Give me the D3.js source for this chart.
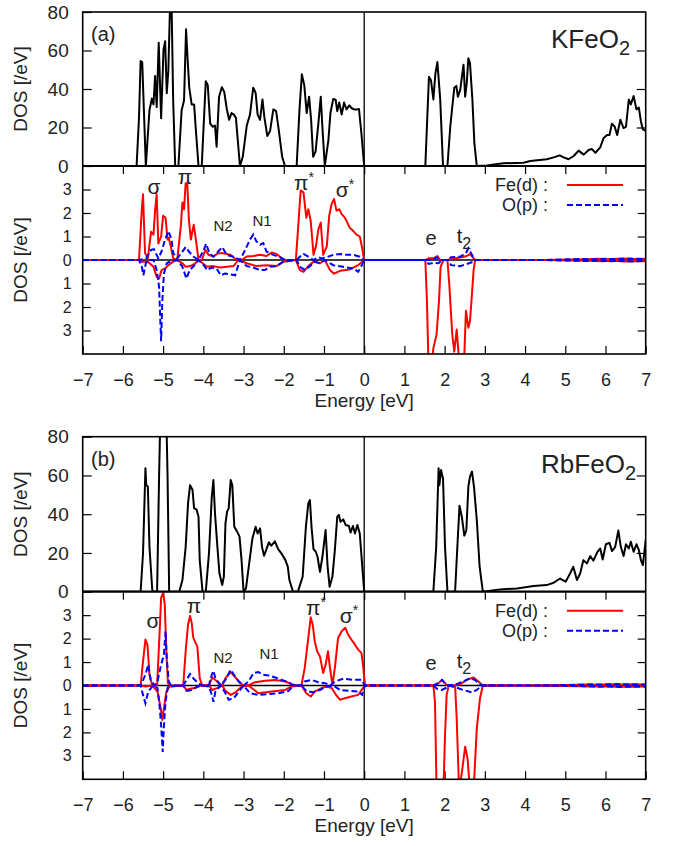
<!DOCTYPE html>
<html lang="en">
<head>
<meta charset="UTF-8">
<title>DOS KFeO2 / RbFeO2</title>
<script src="https://d3js.org/d3.v7.min.js"></script>
<style>
  body { margin: 0; background: #fff; }
  svg { font-family: "Liberation Sans", Arial, sans-serif; }
  .tick line { stroke: #000; stroke-width: 1.2; }
  .tick text { fill: #222; }
</style>
</head>
<body>
<svg id="chart" width="675" height="846"></svg>
<script>
// ---- data: [energy eV, DOS] ----
const xTicks = [-7, -6, -5, -4, -3, -2, -1, 0, 1, 2, 3, 4, 5, 6, 7];
const totalTicks = [0, 20, 40, 60, 80];
const pdosTicks = [-3, -2, -1, 0, 1, 2, 3];

const kTotal = [[-7,0],[-5.66,0],[-5.6,25],[-5.56,54.5],[-5.52,54],[-5.43,0],[-5.34,29],[-5.28,35],[-5.24,32],[-5.2,46.8],[-5.16,30.6],[-5.11,64],[-5.05,24.8],[-4.99,60.6],[-4.95,64.8],[-4.91,37.8],[-4.87,49.7],[-4.83,82],[-4.79,84],[-4.75,34],[-4.7,0],[-4.62,0],[-4.54,29],[-4.48,34],[-4.43,71],[-4.39,55],[-4.35,40.7],[-4.29,32],[-4.23,32],[-4.18,17],[-4.12,0],[-4.04,0],[-3.94,44],[-3.89,42],[-3.83,22],[-3.77,20.4],[-3.71,21],[-3.67,10],[-3.61,35.8],[-3.54,40.9],[-3.48,38.5],[-3.42,30],[-3.36,24],[-3.3,27.5],[-3.24,26.7],[-3.19,25],[-3.09,0],[-3.02,4.8],[-2.92,21],[-2.84,26.7],[-2.76,40.7],[-2.7,38],[-2.65,26.7],[-2.59,24],[-2.53,34.6],[-2.48,25],[-2.41,15.6],[-2.34,18.2],[-2.26,29.4],[-2.19,28.5],[-2.12,18],[-2.04,4.8],[-1.97,0],[-1.68,0],[-1.61,29],[-1.55,47.6],[-1.49,42],[-1.43,27.5],[-1.37,36],[-1.32,24],[-1.27,4.8],[-1.21,7.4],[-1.14,22],[-1.08,36],[-1.04,20.4],[-0.98,0],[-0.89,13.5],[-0.84,27.5],[-0.77,34.8],[-0.71,34.4],[-0.67,28.5],[-0.62,33],[-0.56,26.7],[-0.5,33],[-0.44,29.4],[-0.37,31.5],[-0.31,30],[-0.25,29.4],[-0.19,29.4],[-0.13,29.6],[-0.07,17],[0,0],[1.52,0],[1.61,46.4],[1.66,44.6],[1.72,34.6],[1.77,48],[1.82,54],[1.89,34.6],[1.96,0],[2.07,0],[2.14,20.4],[2.24,40.7],[2.29,41.6],[2.33,36],[2.39,39.8],[2.43,46.4],[2.47,52.6],[2.51,36],[2.55,43],[2.59,56],[2.63,53.5],[2.69,34.6],[2.74,11.8],[2.8,0],[3.05,0.3],[3.46,1.4],[3.96,1.7],[4.13,2.6],[4.54,3.5],[4.71,4.5],[4.86,5.5],[4.96,4.5],[5.08,3.5],[5.21,5.2],[5.33,8],[5.46,5.9],[5.58,8.3],[5.66,8.8],[5.75,6.9],[5.87,9.7],[5.95,14.4],[6.04,16.1],[6.1,16.1],[6.16,22],[6.23,20.4],[6.29,16.1],[6.37,24],[6.45,19.7],[6.51,20.4],[6.58,34.6],[6.63,32],[6.7,36.3],[6.77,29.4],[6.83,30.3],[6.88,23.3],[6.93,19],[7,18.2]];

const kFeUp = [[-7,0],[-5.6,0],[-5.53,2.16],[-5.5,2.8],[-5.45,0.3],[-5.38,0.07],[-5.3,1.2],[-5.24,1.08],[-5.2,2.1],[-5.16,2.8],[-5.12,0.7],[-5.05,1.0],[-5.0,1.88],[-4.94,1.8],[-4.89,0.87],[-4.86,0.94],[-4.81,0.58],[-4.75,0.07],[-4.65,0],[-4.56,1.44],[-4.52,2.45],[-4.48,2.16],[-4.44,3.25],[-4.4,3.3],[-4.36,1.73],[-4.31,0.87],[-4.24,1.5],[-4.18,0.8],[-4.12,0],[-4.04,0],[-3.95,0.43],[-3.87,0.22],[-3.75,0.15],[-3.63,0.29],[-3.5,0.29],[-3.33,0.22],[-3.17,0],[-3.05,0],[-2.92,0.15],[-2.76,0.17],[-2.59,0.22],[-2.43,0.17],[-2.3,0.32],[-2.18,0.26],[-2.05,0.07],[-1.97,0],[-1.7,0],[-1.64,1.44],[-1.58,2.96],[-1.51,2.88],[-1.44,1.8],[-1.39,2.16],[-1.33,1.66],[-1.26,0.22],[-1.2,0.58],[-1.14,1.3],[-1.08,1.59],[-1.02,0.22],[-0.93,0.58],[-0.87,1.88],[-0.81,2.38],[-0.75,2.6],[-0.69,2.1],[-0.62,2.16],[-0.56,1.95],[-0.48,1.8],[-0.42,1.59],[-0.36,1.37],[-0.27,1.23],[-0.19,1.08],[-0.11,1.0],[-0.05,0.5],[0,0],[1.52,0],[1.6,0.07],[1.72,0.07],[1.82,0.17],[1.89,0],[2.07,0],[2.26,0.07],[2.43,0.12],[2.55,0.17],[2.63,0.25],[2.76,0],[4.5,0],[5.5,0.03],[5.8,0.05],[6.1,0.03],[6.4,0.06],[6.7,0.04],[7,0.05]];
const kFeDn = [[-7,0],[-5.6,0],[-5.53,-0.07],[-5.38,-0.07],[-5.24,-0.29],[-5.16,-0.72],[-5.1,-0.79],[-5.04,-0.43],[-4.95,-0.36],[-4.87,-0.22],[-4.75,-0.07],[-4.65,0],[-4.52,-0.14],[-4.44,-0.29],[-4.32,-0.26],[-4.2,-0.14],[-4.12,0],[-3.91,-0.29],[-3.75,-0.26],[-3.58,-0.32],[-3.42,-0.29],[-3.25,-0.26],[-3.13,0],[-2.92,-0.14],[-2.68,-0.26],[-2.43,-0.22],[-2.18,-0.26],[-2.01,-0.07],[-1.7,0],[-1.6,-0.43],[-1.51,-0.5],[-1.39,-0.26],[-1.26,-0.07],[-1.1,-0.14],[-0.98,0],[-0.85,-0.43],[-0.75,-0.58],[-0.6,-0.46],[-0.36,-0.4],[-0.15,-0.22],[0,0],[1.52,0],[1.56,-1.73],[1.6,-4.5],[1.68,-4.5],[1.72,-3.75],[1.8,-3.17],[1.86,-1.73],[1.9,-0.29],[1.97,0],[2.07,0],[2.12,-1.15],[2.19,-3.17],[2.24,-3.9],[2.3,-2.96],[2.37,-4.5],[2.43,-4.5],[2.48,-4.5],[2.53,-2.16],[2.59,-2.88],[2.63,-2.6],[2.68,-1.44],[2.72,-0.43],[2.76,0],[4.5,0],[5.6,-0.03],[5.9,-0.05],[6.2,-0.03],[6.5,-0.06],[6.8,-0.04],[7,-0.05]];
const kOUp = [[-7,0],[-5.6,0],[-5.42,0.07],[-5.3,0.43],[-5.23,0.46],[-5.12,0.07],[-5.04,0.36],[-4.95,0.87],[-4.87,1.23],[-4.79,0.87],[-4.75,0.29],[-4.65,0.07],[-4.52,0.36],[-4.44,0.55],[-4.36,0.36],[-4.24,0.14],[-4.12,0],[-3.99,0.43],[-3.93,0.69],[-3.85,0.29],[-3.75,0.14],[-3.63,0.36],[-3.53,0.55],[-3.42,0.22],[-3.25,0.14],[-3.09,0],[-2.96,0.43],[-2.84,0.87],[-2.76,1.08],[-2.68,0.79],[-2.59,0.65],[-2.51,0.72],[-2.43,0.36],[-2.26,0.22],[-2.1,0.12],[-1.97,0],[-1.68,0],[-1.6,0.14],[-1.51,0.26],[-1.39,0.14],[-1.26,0],[-1.14,0.12],[-1.06,0.07],[-0.93,0.12],[-0.77,0.22],[-0.6,0.26],[-0.44,0.22],[-0.27,0.22],[-0.11,0.14],[0,0],[1.52,0],[1.68,0],[1.81,0.12],[1.91,0],[2.07,0],[2.16,0.12],[2.39,0.14],[2.53,0.29],[2.59,0.5],[2.68,0.22],[2.76,0],[4.5,0],[5.4,0.04],[5.7,0.03],[6.0,0.05],[6.3,0.04],[6.6,0.06],[7,0.04]];
const kODn = [[-7,0],[-5.6,0],[-5.53,-0.29],[-5.49,-0.65],[-5.43,-0.14],[-5.36,0],[-5.24,0],[-5.16,-0.43],[-5.1,-1.15],[-5.07,-2.6],[-5.05,-3.46],[-5.02,-1.73],[-4.98,-0.58],[-4.91,-0.14],[-4.79,-0.03],[-4.65,0],[-4.52,-0.29],[-4.42,-0.79],[-4.34,-0.43],[-4.24,-0.26],[-4.12,0],[-3.99,-0.22],[-3.91,-0.43],[-3.79,-0.32],[-3.67,-0.36],[-3.57,-0.65],[-3.46,-0.58],[-3.34,-0.61],[-3.21,-0.65],[-3.09,0],[-2.92,-0.26],[-2.76,-0.32],[-2.59,-0.43],[-2.47,-0.43],[-2.34,-0.29],[-2.18,-0.26],[-2.01,-0.07],[-1.68,0],[-1.6,-0.29],[-1.47,-0.43],[-1.35,-0.26],[-1.22,-0.07],[-1.1,-0.14],[-0.98,0],[-0.77,-0.22],[-0.52,-0.29],[-0.27,-0.36],[-0.15,-0.5],[-0.07,-0.26],[0,0],[1.52,0],[1.6,-0.17],[1.72,-0.12],[1.85,-0.14],[1.93,0],[2.09,0],[2.16,-0.22],[2.39,-0.26],[2.55,-0.17],[2.72,-0.07],[2.76,0],[4.5,0],[5.5,-0.04],[5.8,-0.03],[6.1,-0.05],[6.4,-0.04],[6.7,-0.06],[7,-0.04]];

const rTotal = [[-7,0],[-5.56,0],[-5.5,19.8],[-5.44,63.7],[-5.42,55],[-5.38,54.3],[-5.34,23.2],[-5.27,0.9],[-5.21,0],[-5.15,0],[-5.1,60],[-5.05,110],[-4.94,110],[-4.89,60],[-4.85,0],[-4.6,0],[-4.52,6],[-4.44,23],[-4.38,45.7],[-4.33,55],[-4.27,52.6],[-4.23,43],[-4.17,42.5],[-4.12,38.7],[-4.09,16.3],[-4.02,0],[-3.94,0],[-3.86,19.8],[-3.79,49],[-3.75,57.6],[-3.71,40.4],[-3.65,23],[-3.6,9.4],[-3.53,3.5],[-3.49,7.8],[-3.45,35.3],[-3.41,41.3],[-3.37,43],[-3.32,57.6],[-3.28,55],[-3.23,33.5],[-3.16,31],[-3.1,28.4],[-3.05,16.3],[-3.0,0],[-2.94,1.7],[-2.86,14.6],[-2.78,27.5],[-2.7,33.5],[-2.65,30],[-2.59,32.7],[-2.54,23],[-2.49,18.6],[-2.43,22],[-2.37,25.5],[-2.31,23.8],[-2.22,26],[-2.14,22],[-2.06,19.8],[-1.96,16.3],[-1.9,12.9],[-1.86,6],[-1.77,0],[-1.65,0],[-1.53,7.8],[-1.45,33.5],[-1.39,45.6],[-1.35,47.3],[-1.31,33.5],[-1.26,22],[-1.2,20.5],[-1.16,17.9],[-1.1,10.3],[-1.04,17.9],[-0.96,31.8],[-0.91,12.9],[-0.86,2.6],[-0.79,7.8],[-0.73,21.5],[-0.67,38.7],[-0.63,39.6],[-0.59,36.1],[-0.52,37.3],[-0.46,34.4],[-0.38,33.9],[-0.34,30.5],[-0.28,33.9],[-0.23,30],[-0.17,34.4],[-0.11,30],[0,0],[1.72,0],[1.79,23],[1.85,63.7],[1.87,55],[1.91,62.8],[1.96,58.4],[2.01,23],[2.07,0],[2.26,0],[2.32,24.6],[2.37,44.4],[2.43,38.4],[2.49,29],[2.54,31.6],[2.59,54.2],[2.63,59.4],[2.68,62],[2.73,54.2],[2.8,37],[2.87,12.9],[2.95,0],[3.38,1.2],[3.8,1.7],[4.21,2.9],[4.54,3.4],[4.71,4.6],[4.87,6.8],[5.01,5.2],[5.12,9.4],[5.2,12.9],[5.29,6],[5.37,9.4],[5.45,16.3],[5.54,14.6],[5.62,18.4],[5.7,16],[5.8,20.6],[5.87,22.3],[5.93,16.6],[6.01,24.5],[6.1,25.2],[6.16,21],[6.24,23],[6.32,31.6],[6.38,23.3],[6.45,18.4],[6.51,24.5],[6.58,22.3],[6.63,25.8],[6.7,20.6],[6.77,24.5],[6.83,21.5],[6.88,16.3],[6.93,13.7],[7,26.6]];

const rFeUp = [[-7,0],[-5.56,0],[-5.5,1.03],[-5.44,1.96],[-5.39,1.74],[-5.34,0.46],[-5.27,0],[-5.15,0],[-5.09,2.17],[-5.05,3.74],[-5.0,3.96],[-4.96,3.46],[-4.92,1.46],[-4.88,0.1],[-4.8,0],[-4.5,0],[-4.44,1.46],[-4.38,2.6],[-4.33,2.96],[-4.29,2.67],[-4.25,2.03],[-4.19,1.81],[-4.15,1.67],[-4.09,0.31],[-4.03,0],[-3.86,0],[-3.78,0.34],[-3.7,0.24],[-3.62,0.1],[-3.53,0],[-3.45,0.31],[-3.32,0.57],[-3.2,0.34],[-3.08,0.1],[-3.0,0],[-2.88,0],[-2.71,0.14],[-2.46,0.2],[-2.21,0.23],[-1.96,0.17],[-1.8,0.06],[-1.68,0],[-1.56,0],[-1.48,0.74],[-1.39,2.03],[-1.33,2.91],[-1.28,2.6],[-1.23,1.89],[-1.17,1.46],[-1.1,1.24],[-1.02,0.53],[-0.96,0.89],[-0.9,1.46],[-0.85,0.74],[-0.79,0.03],[-0.73,0.74],[-0.65,2.03],[-0.56,2.31],[-0.47,2.46],[-0.4,2.17],[-0.32,1.96],[-0.23,1.74],[-0.15,1.53],[-0.07,1.39],[-0.03,0.89],[0.02,0],[1.72,0],[1.85,0.1],[1.93,0.24],[2.01,0.1],[2.07,0],[2.26,0],[2.39,0.06],[2.55,0.24],[2.72,0.34],[2.84,0.17],[2.95,0],[4.5,0],[5.5,0.04],[5.8,0.03],[6.1,0.05],[6.4,0.04],[6.7,0.05],[7,0.03]];
const rFeDn = [[-7,0],[-5.56,0],[-5.44,-0.04],[-5.27,0],[-5.14,-0.26],[-5.06,-0.97],[-5.02,-1.47],[-4.98,-0.97],[-4.92,-0.26],[-4.84,-0.04],[-4.5,0],[-4.42,-0.19],[-4.33,-0.14],[-4.21,-0.11],[-4.09,0],[-3.86,0],[-3.78,-0.19],[-3.66,-0.11],[-3.53,0],[-3.45,-0.23],[-3.32,-0.4],[-3.2,-0.29],[-3.04,-0.04],[-2.88,0],[-2.63,-0.33],[-2.3,-0.26],[-1.96,-0.19],[-1.8,-0.04],[-1.56,0],[-1.44,-0.33],[-1.33,-0.47],[-1.23,-0.26],[-1.06,-0.11],[-0.93,-0.04],[-0.81,-0.11],[-0.7,-0.4],[-0.6,-0.61],[-0.48,-0.54],[-0.32,-0.47],[-0.15,-0.4],[-0.03,-0.11],[0.02,0],[1.72,0],[1.76,-0.69],[1.8,-4.5],[1.97,-4.5],[2.01,-2.11],[2.05,-0.4],[2.1,0],[2.26,0],[2.3,-1.4],[2.36,-4.5],[2.43,-3.69],[2.51,-2.61],[2.57,-3.11],[2.63,-4.5],[2.72,-4.5],[2.8,-1.83],[2.88,-0.54],[2.95,0],[4.5,0],[5.6,-0.04],[5.9,-0.03],[6.2,-0.05],[6.5,-0.04],[6.8,-0.05],[7,-0.03]];
const rOUp = [[-7,0],[-5.56,0],[-5.44,0.46],[-5.37,0.89],[-5.31,0.24],[-5.21,0],[-5.14,0.17],[-5.05,0.89],[-4.98,1.31],[-4.94,2.31],[-4.91,1.17],[-4.86,0.17],[-4.8,0],[-4.5,0],[-4.42,0.24],[-4.33,0.49],[-4.25,0.31],[-4.13,0.1],[-4.04,0],[-3.86,0.03],[-3.79,0.46],[-3.75,0.63],[-3.7,0.31],[-3.57,0],[-3.45,0.24],[-3.32,0.67],[-3.24,0.46],[-3.12,0.17],[-3.0,0],[-2.88,0.17],[-2.75,0.53],[-2.63,0.57],[-2.51,0.46],[-2.38,0.43],[-2.21,0.34],[-2.05,0.24],[-1.88,0.14],[-1.76,0],[-1.56,0],[-1.48,0.17],[-1.31,0.24],[-1.14,0.14],[-0.97,0.1],[-0.85,0],[-0.73,0.17],[-0.52,0.29],[-0.27,0.24],[-0.07,0.24],[0.02,0],[1.72,0],[1.85,0.1],[1.94,0.24],[2.02,0.06],[2.08,0],[2.3,0.06],[2.46,0.17],[2.63,0.31],[2.75,0.24],[2.92,0],[4.5,0],[5.4,0.03],[5.7,0.05],[6.0,0.04],[6.3,0.06],[6.6,0.04],[7,0.05]];
const rODn = [[-7,0],[-5.56,0],[-5.5,-0.4],[-5.44,-0.76],[-5.37,-0.26],[-5.25,0],[-5.14,-0.11],[-5.09,-0.83],[-5.05,-1.69],[-5.01,-2.83],[-4.98,-1.69],[-4.94,-0.69],[-4.88,-0.04],[-4.5,0],[-4.42,-0.23],[-4.29,-0.19],[-4.13,-0.04],[-4.04,0],[-3.86,-0.04],[-3.79,-0.4],[-3.75,-0.69],[-3.7,-0.26],[-3.57,0],[-3.45,-0.33],[-3.37,-0.61],[-3.24,-0.54],[-3.12,-0.26],[-3.0,0],[-2.84,-0.33],[-2.63,-0.4],[-2.38,-0.37],[-2.13,-0.33],[-1.88,-0.23],[-1.76,0],[-1.56,0],[-1.44,-0.23],[-1.28,-0.29],[-1.1,-0.19],[-0.93,-0.04],[-0.77,0],[-0.6,-0.19],[-0.36,-0.23],[-0.15,-0.26],[-0.05,-0.4],[0.02,0],[1.72,0],[1.81,-0.14],[1.93,-0.19],[2.05,-0.09],[2.1,0],[2.3,-0.09],[2.46,-0.19],[2.68,-0.29],[2.8,-0.19],[2.92,0],[4.5,0],[5.5,-0.03],[5.8,-0.05],[6.1,-0.04],[6.4,-0.06],[6.7,-0.04],[7,-0.05]];

// ---- layout ----
const svg = d3.select("#chart");
const left = 82.7, right = 645.7;
const x = d3.scaleLinear().domain([-7, 7]).range([left, right]);
const red = "#ff0000", blue = "#0000ff";

const line = (ys) => d3.line().x(d => x(d[0])).y(d => ys(d[1]));

function drawPanel(p) {
  const g = svg.append("g");
  const yTop = d3.scaleLinear().domain([0, 80]).range([p.mid, p.top]);
  const yBot = d3.scaleLinear().domain([-4, 4]).range([p.bot, p.mid]);

  // clip paths
  const defs = svg.append("defs");
  defs.append("clipPath").attr("id", p.id + "top")
    .append("rect").attr("x", left).attr("y", p.top).attr("width", right - left).attr("height", p.mid - p.top);
  defs.append("clipPath").attr("id", p.id + "bot")
    .append("rect").attr("x", left).attr("y", p.mid).attr("width", right - left).attr("height", p.bot - p.mid);

  // y axes top
  g.append("g").attr("transform", `translate(${left},0)`)
    .style("font-size", "19px")
    .call(d3.axisLeft(yTop).tickValues(totalTicks).tickSizeInner(-9).tickSizeOuter(0).tickPadding(14))
    .call(a => a.select(".domain").remove());
  g.append("g").attr("transform", `translate(${right},0)`)
    .call(d3.axisRight(yTop).tickValues(totalTicks.slice(1, 4)).tickSizeInner(-9).tickSizeOuter(0).tickFormat(""))
    .call(a => a.select(".domain").remove());

  // y axes bottom
  g.append("g").attr("transform", `translate(${left},0)`)
    .style("font-size", "16px")
    .call(d3.axisLeft(yBot).tickValues(pdosTicks).tickSizeInner(-8).tickSizeOuter(0).tickPadding(11)
      .tickFormat(d => Math.abs(d)))
    .call(a => a.select(".domain").remove());
  g.append("g").attr("transform", `translate(${right},0)`)
    .call(d3.axisRight(yBot).tickValues(pdosTicks).tickSizeInner(-8).tickSizeOuter(0).tickFormat(""))
    .call(a => a.select(".domain").remove());

  // x axes on pdos part
  g.append("g").attr("transform", `translate(0,${p.bot})`)
    .style("font-size", "18px")
    .call(d3.axisBottom(x).tickValues(xTicks).tickSizeInner(-8).tickSizeOuter(0).tickPadding(19)
      .tickFormat(d => d < 0 ? "\u2212" + Math.abs(d) : d))
    .call(a => a.select(".domain").remove());
  g.append("g").attr("transform", `translate(0,${p.mid})`)
    .call(d3.axisTop(x).tickValues(xTicks.slice(1, -1)).tickSizeInner(-8).tickSizeOuter(0).tickFormat(""))
    .call(a => a.select(".domain").remove());

  // zero lines
  g.append("line").attr("x1", left).attr("x2", right).attr("y1", yBot(0)).attr("y2", yBot(0))
    .attr("stroke", "#000").attr("stroke-width", 1.3);
  g.append("line").attr("x1", x(0)).attr("x2", x(0)).attr("y1", p.top).attr("y2", p.bot)
    .attr("stroke", "#000").attr("stroke-width", 1.3);

  // total DOS
  g.append("path").datum(p.total).attr("clip-path", `url(#${p.id}top)`)
    .attr("d", line(yTop)).attr("fill", "none").attr("stroke", "#000").attr("stroke-width", 2)
    .attr("stroke-linejoin", "round");

  // PDOS
  const pd = g.append("g").attr("clip-path", `url(#${p.id}bot)`);
  [p.feUp, p.feDn].forEach(s => pd.append("path").datum(s).attr("d", line(yBot))
    .attr("fill", "none").attr("stroke", red).attr("stroke-width", 2).attr("stroke-linejoin", "round"));
  [p.oUp, p.oDn].forEach(s => pd.append("path").datum(s).attr("d", line(yBot))
    .attr("fill", "none").attr("stroke", blue).attr("stroke-width", 2).attr("stroke-dasharray", "6,3"));

  // frame
  g.append("rect").attr("x", left).attr("y", p.top).attr("width", right - left).attr("height", p.bot - p.top)
    .attr("fill", "none").attr("stroke", "#000").attr("stroke-width", 1.6);
  g.append("line").attr("x1", left).attr("x2", right).attr("y1", p.mid).attr("y2", p.mid)
    .attr("stroke", "#000").attr("stroke-width", 2.2);

  // axis titles
  g.append("text").attr("transform", `translate(27,${(p.top + p.mid) / 2}) rotate(-90)`)
    .attr("text-anchor", "middle").style("font-size", "19px").attr("fill", "#222").text("DOS [/eV]");
  g.append("text").attr("transform", `translate(27,${(p.mid + p.bot) / 2}) rotate(-90)`)
    .attr("text-anchor", "middle").style("font-size", "19px").attr("fill", "#222").text("DOS [/eV]");
  g.append("text").attr("x", (left + right) / 2).attr("y", p.bot + 53)
    .attr("text-anchor", "middle").style("font-size", "19px").attr("fill", "#222").text("Energy [eV]");

  // panel tag and compound
  g.append("text").attr("x", 91).attr("y", p.top + 29).style("font-size", "20px").attr("fill", "#222").text(p.tag);
  const t = g.append("text").attr("x", p.nameX).attr("y", p.top + 36).attr("text-anchor", "end")
    .style("font-size", "26px").attr("fill", "#222");
  t.append("tspan").text(p.name);
  t.append("tspan").attr("dy", 7).style("font-size", "20px").text("2");

  // legend
  const lg = [["Fe(d) :", red, null], ["O(p) :", blue, "6,3"]];
  lg.forEach((d, i) => {
    const ly = p.mid + 19 + i * 20;
    g.append("text").attr("x", 548).attr("y", ly + 6).attr("text-anchor", "end")
      .style("font-size", "18px").attr("fill", "#222").text(d[0]);
    g.append("line").attr("x1", 567).attr("x2", 623).attr("y1", ly).attr("y2", ly)
      .attr("stroke", d[1]).attr("stroke-width", 2).attr("stroke-dasharray", d[2]);
  });

  // peak labels
  p.notes.forEach(n => {
    const tx = g.append("text").attr("x", n[0]).attr("y", n[1]).attr("text-anchor", "middle")
      .style("font-size", n[3] + "px").attr("fill", "#222");
    tx.append("tspan").text(n[2]);
    if (n[4] === "sup") tx.append("tspan").attr("dy", -8).style("font-size", "14px").text("*");
    if (n[4] === "sub") tx.append("tspan").attr("dy", 6).style("font-size", "16px").text("2");
  });
}

drawPanel({
  id: "a", top: 12, mid: 166, bot: 354, tag: "(a)", name: "KFeO", nameX: 630,
  total: kTotal, feUp: kFeUp, feDn: kFeDn, oUp: kOUp, oDn: kODn,
  notes: [[154, 194, "\u03c3", 21], [185, 184, "\u03c0", 21], [223, 231, "N2", 15], [262, 226, "N1", 15],
          [304, 190, "\u03c0", 21, "sup"], [345, 197, "\u03c3", 21, "sup"], [431, 245, "e", 20], [464, 243, "t", 20, "sub"]]
});
drawPanel({
  id: "b", top: 436.7, mid: 591.7, bot: 779.3, tag: "(b)", name: "RbFeO", nameX: 636,
  total: rTotal, feUp: rFeUp, feDn: rFeDn, oUp: rOUp, oDn: rODn,
  notes: [[153, 628, "\u03c3", 21], [194, 613, "\u03c0", 21], [223, 663, "N2", 15], [269, 659, "N1", 15],
          [316, 615, "\u03c0", 21, "sup"], [349, 623, "\u03c3", 21, "sup"], [431, 670, "e", 20], [464, 668, "t", 20, "sub"]]
});
</script>
</body>
</html>
